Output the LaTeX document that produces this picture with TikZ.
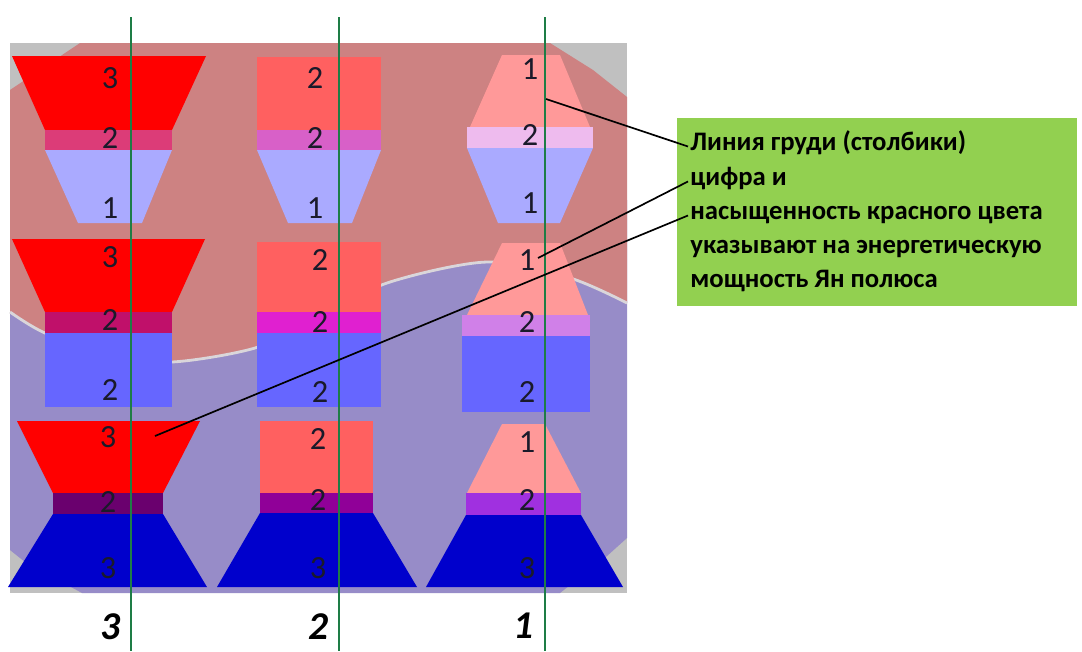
\documentclass[tikz,border=0pt]{standalone}
\usepackage{fontspec}
\setmainfont{Carlito}
\usetikzlibrary{positioning}

\definecolor{frame}{HTML}{C0C0C0}
\definecolor{yang}{HTML}{CD8282}
\definecolor{yin}{HTML}{978CC8}
\definecolor{seam}{HTML}{DAD6DA}
\definecolor{axisgreen}{HTML}{1E7D46}
\definecolor{legendgreen}{HTML}{92D050}
\definecolor{ink}{HTML}{1A1A2A}
\definecolor{redA}{HTML}{FF0000}
\definecolor{redB}{HTML}{FF6060}
\definecolor{redC}{HTML}{FF9999}
\definecolor{blueA}{HTML}{AAAAFF}
\definecolor{blueB}{HTML}{6666FF}
\definecolor{blueC}{HTML}{0000CC}
\definecolor{bandA3}{HTML}{DC3C78}
\definecolor{bandA2}{HTML}{D860C8}
\definecolor{bandA1}{HTML}{EEBBEE}
\definecolor{bandB3}{HTML}{C0106A}
\definecolor{bandB2}{HTML}{E020D0}
\definecolor{bandB1}{HTML}{D080E8}
\definecolor{bandC3}{HTML}{6A006E}
\definecolor{bandC2}{HTML}{900098}
\definecolor{bandC1}{HTML}{A030E0}

\begin{document}
\begin{tikzpicture}[x=0.025cm, y=-0.025cm,
      digit/.style={inner sep=0pt, text=ink, font=\fontsize{23}{27}\selectfont},
      colno/.style={inner sep=0pt, font=\fontsize{28}{32}\selectfont\bfseries\itshape},
      legendline/.style={anchor=base west, inner sep=1.5pt, text height=.75em, text depth=.25em,
                         font=\fontsize{19}{23}\selectfont\bfseries},
      axisline/.style={draw=axisgreen, line width=1.6pt},
      callout/.style={draw=black, line width=1.2pt}]
  \useasboundingbox (0,0) rectangle (1082,651);

  \fill[frame] (10,43) rectangle (627,593);
  \fill[yin] (10,200) -- (627,200) -- (627,538) -- (607,556) -- (560,593) -- (82,593)
             -- (25,562) -- (10,550) -- cycle;
  \fill[yang] (10,90) -- (80,43) -- (550,43) -- (593,70) -- (627,97) -- (627,303)
              -- plot[smooth] coordinates {(627,303) (570,278) (487,262) (387,283) (320,318)
                 (255,348) (172,362) (110,355) (45,333) (10,312)} -- cycle;
  \draw[seam, line width=2pt] plot[smooth] coordinates {(10,312) (45,333) (110,355) (172,362)
     (255,348) (320,318) (387,283) (487,262) (570,278) (627,303)};

  \fill[redA] (12,56) -- (206,56) -- (172,130) -- (45,130) -- cycle;
  \fill[bandA3] (45,130) rectangle (172,150);
  \fill[blueA] (45,150) -- (172,150) -- (142,223) -- (78,223) -- cycle;
  \fill[redB] (257,57) rectangle (381,130);
  \fill[bandA2] (257,130) rectangle (381,150);
  \fill[blueA] (257,150) -- (381,150) -- (352,223) -- (288,223) -- cycle;
  \fill[redC] (502,55) -- (560,55) -- (590,127) -- (470,127) -- cycle;
  \fill[bandA1] (467,127) rectangle (593,148);
  \fill[blueA] (467,148) -- (593,148) -- (560,223) -- (498,223) -- cycle;

  \fill[redA] (12,239) -- (205,239) -- (172,312) -- (45,312) -- cycle;
  \fill[bandB3] (45,312) rectangle (172,333);
  \fill[blueB] (45,333) rectangle (172,407);
  \fill[redB] (257,242) rectangle (381,312);
  \fill[bandB2] (257,312) rectangle (381,333);
  \fill[blueB] (257,333) rectangle (381,407);
  \fill[redC] (502,243) -- (560,243) -- (588,315) -- (467,315) -- cycle;
  \fill[bandB1] (462,315) rectangle (590,336);
  \fill[blueB] (462,336) rectangle (590,412);

  \fill[redA] (17,421) -- (200,421) -- (163,493) -- (53,493) -- cycle;
  \fill[bandC3] (53,493) rectangle (163,514);
  \fill[blueC] (53,514) -- (163,514) -- (207,587) -- (8,587) -- cycle;
  \fill[redB] (260,421) rectangle (373,493);
  \fill[bandC2] (260,493) rectangle (373,513);
  \fill[blueC] (260,513) -- (373,513) -- (417,587) -- (217,587) -- cycle;
  \fill[redC] (502,424) -- (545,424) -- (581,493) -- (467,493) -- cycle;
  \fill[bandC1] (466,493) rectangle (581,515);
  \fill[blueC] (466,515) -- (581,515) -- (623,587) -- (426,587) -- cycle;

  \foreach \n/\x/\y/\d in {d13a/110/78/3, d13b/110/138/2, d13c/110/208/1,
      d12a/315/78/2, d12b/315/138/2, d12c/315/208/1,
      d11a/530/69/1, d11b/530/135/2, d11c/530/203/1,
      d23a/110/257/3, d23b/110/320/2, d23c/110/390/2,
      d22a/320/260/2, d22b/320/322/2, d22c/320/392/2,
      d21a/527/260/1, d21b/527/322/2, d21c/527/392/2,
      d33a/108/437/3, d33b/108/502/2, d33c/108/568/3,
      d32a/318/439/2, d32b/318/500/2, d32c/318/568/3,
      d31a/527/442/1, d31b/527/500/2, d31c/527/568/3}
    \node[digit] (\n) at (\x,\y) {\d};

  \node[colno] (col3) at (110,627) {3};
  \node[colno] (col2) at (318,627) {2};
  \node[colno] (col1) at (523,626) {1};

  \foreach \x in {131,339,545}
    \draw[axisline] (\x,17) -- (\x,651);

  \node[fill=legendgreen, minimum width=10cm, minimum height=4.7cm, inner sep=0pt] (legend) at (877,212) {};
  \foreach \n/\y/\s in {l1/150/Линия груди (столбики), l2/185/цифра и,
      l3/219/насыщенность красного цвета, l4/253/указывают на энергетическую,
      l5/287/мощность Ян полюса}
    \node[legendline] (\n) at (688,\y) {\s};

  \coordinate (p1) at (546,99);
  \coordinate (p2) at (538,258);
  \coordinate (p3) at (155,436);
  \draw[callout] (p1) -- (l1.west);
  \draw[callout] (p2) -- (l2.west);
  \draw[callout] (p3) -- (l3.west);
\end{tikzpicture}
\end{document}
